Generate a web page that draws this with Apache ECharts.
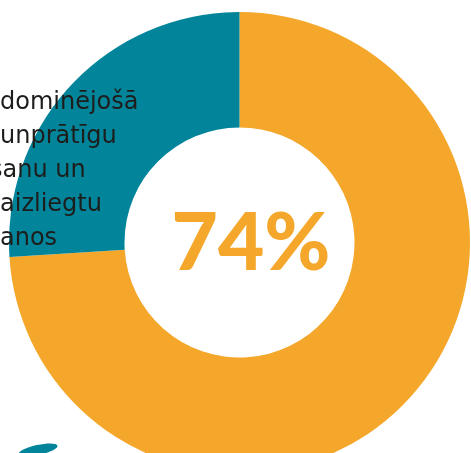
<!DOCTYPE html>
<html><head><meta charset="utf-8">
<script src="https://cdn.jsdelivr.net/npm/echarts@6/dist/echarts.min.js"></script>
<style>html,body{margin:0;padding:0;background:#fff;overflow:hidden}#c{width:471px;height:453px}</style>
</head><body><div id="c"></div>
<script>
const categories = ['Jā', 'Nē'];
const values = [74, 26];
const colors = ['#F4A72B', '#02849A'];
const centerLabel = '74%';
const sideLines = ['dominējošā', 'unprātīgu', 'šanu un', 'aizliegtu', 'anos'];
const sideOffsets = [0, 0, -10, 0, 0];

const chart = echarts.init(document.getElementById('c'), null, {renderer: 'canvas'});
const lineGraphics = sideLines.map((t, i) => ({
  type: 'text', x: sideOffsets[i], y: 103 + i * 34, z: 100,
  style: {text: t, fill: '#1d1d1b', font: '400 24px "DejaVu Sans"', textVerticalAlign: 'middle'}
}));
chart.setOption({
  animation: false,
  series: [{
    type: 'pie',
    center: [239.5, 242.5],
    radius: [115, 230.5],
    startAngle: 90,
    clockwise: true,
    label: {show: false},
    labelLine: {show: false},
    emphasis: {disabled: true},
    data: categories.map((c, i) => ({name: c, value: values[i], itemStyle: {color: colors[i]}}))
  }],
  graphic: [
    {type: 'text', x: 251, y: 244, z: 100,
     style: {text: centerLabel, fill: '#F4A72B', font: '900 80px Lato', textAlign: 'center', textVerticalAlign: 'middle'}},
    ...lineGraphics,
    {type: 'ellipse', z: 100, shape: {cx: 38, cy: 450, rx: 20, ry: 5}, rotation: 0.22, originX: 38, originY: 450, style: {fill: '#02849A'}}
  ]
});
</script></body></html>
